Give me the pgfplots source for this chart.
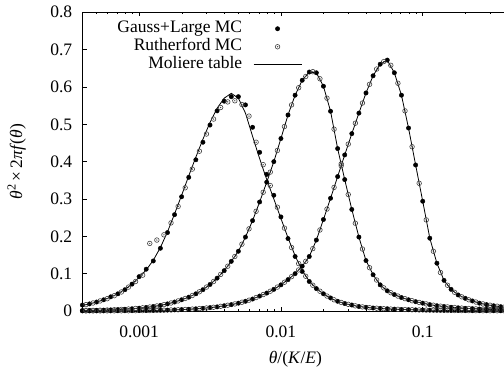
\documentclass[border=0pt]{standalone}
\usepackage{fontspec}
\setmainfont{Liberation Serif}
\usepackage{pgfplots}
\usepackage{pgfplotstable}
\pgfplotsset{compat=1.18}
\newcommand{\fs}{\fontsize{17.5}{20}\selectfont}
\pgfdeclareplotmark{odot}{%
  \pgfpathcircle{\pgfpoint{0pt}{0pt}}{\pgfplotmarksize}\pgfusepathqstroke
  \pgfpathcircle{\pgfpoint{0pt}{0pt}}{0.3\pgfplotmarksize}\pgfusepathqfill}

\pgfplotstableread{
x L1 F1 L2 L3
3.981e-4 0.015 0.016 0.0012 0.0002
4.467e-4 0.019 0.019 0.0015 0.0002
5.012e-4 0.024 0.024 0.0019 0.0003
5.623e-4 0.030 0.030 0.0024 0.0003
6.310e-4 0.037 0.038 0.0030 0.0004
7.079e-4 0.046 0.046 0.0038 0.0005
7.943e-4 0.058 0.057 0.0048 0.0006
8.913e-4 0.072 0.072 0.0060 0.0008
1.000e-3 0.090 0.092 0.0076 0.0010
1.122e-3 0.110 0.112 0.0095 0.0012
1.259e-3 0.136 0.134 0.0120 0.0015
1.413e-3 0.170 0.168 0.0150 0.0019
1.585e-3 0.212 0.210 0.0190 0.0024
1.778e-3 0.260 0.258 0.0240 0.0030
1.995e-3 0.310 0.306 0.0300 0.0037
2.239e-3 0.362 0.358 0.0370 0.0046
2.512e-3 0.412 0.405 0.0460 0.0058
2.818e-3 0.460 0.452 0.0570 0.0072
3.162e-3 0.505 0.498 0.0710 0.0090
3.548e-3 0.543 0.536 0.0880 0.0110
3.981e-3 0.570 0.562 0.1080 0.0140
4.467e-3 0.583 0.574 0.1330 0.0170
5.012e-3 0.570 0.574 0.1600 0.0210
5.623e-3 0.530 0.552 0.1980 0.0260
6.310e-3 0.468 0.492 0.2420 0.0320
7.079e-3 0.408 0.425 0.2920 0.0400
7.943e-3 0.352 0.366 0.3450 0.0480
8.913e-3 0.300 0.310 0.4000 0.0580
1.000e-2 0.248 0.252 0.4620 0.0700
1.122e-2 0.196 0.194 0.5250 0.0840
1.259e-2 0.148 0.146 0.5780 0.1000
1.413e-2 0.108 0.106 0.6180 0.1200
1.585e-2 0.080 0.079 0.6400 0.1460
1.778e-2 0.060 0.060 0.6380 0.1900
1.995e-2 0.046 0.046 0.6020 0.2450
2.239e-2 0.034 0.035 0.5350 0.3020
2.512e-2 0.026 0.026 0.4350 0.3600
2.818e-2 0.020 0.020 0.3520 0.4180
3.162e-2 0.0155 0.016 0.2720 0.4750
3.548e-2 0.0122 0.012 0.1980 0.5300
3.981e-2 0.0098 0.010 0.1350 0.5840
4.467e-2 0.0081 0.008 0.0970 0.6300
5.012e-2 0.0068 0.007 0.0700 0.6610
5.623e-2 0.0057 0.006 0.0540 0.6720
6.310e-2 0.0048 0.005 0.0440 0.6380
7.079e-2 0.0041 0.004 0.0360 0.5780
7.943e-2 0.0035 0.0035 0.0300 0.4900
8.913e-2 0.0030 0.0030 0.0250 0.3910
1.000e-1 0.0026 0.0026 0.0210 0.2940
1.122e-1 0.0022 0.0022 0.0170 0.1950
1.259e-1 0.0019 0.0019 0.0140 0.1280
1.413e-1 0.0016 0.0016 0.0120 0.0820
1.585e-1 0.0014 0.0014 0.0100 0.0580
1.778e-1 0.0012 0.0012 0.0085 0.0430
1.995e-1 0.0010 0.0010 0.0072 0.0340
2.239e-1 0.0009 0.0009 0.0062 0.0270
2.512e-1 0.0008 0.0008 0.0053 0.0210
2.818e-1 0.0007 0.0007 0.0045 0.0170
3.162e-1 0.0006 0.0006 0.0038 0.0140
3.548e-1 0.0005 0.0005 0.0032 0.0115
3.981e-1 0.0004 0.0004 0.0027 0.0095
}\maintab

\pgfplotstableread{
x O1 O2 O3
4.217e-4 0.017 0.0013 0.0002
4.732e-4 0.0215 0.0017 0.0002
5.309e-4 0.027 0.0021 0.0003
5.957e-4 0.033 0.0027 0.0004
6.683e-4 0.041 0.0034 0.0004
7.499e-4 0.051 0.0043 0.0005
8.414e-4 0.064 0.0054 0.0007
9.441e-4 0.079 0.0068 0.0009
1.059e-3 0.096 0.0085 0.0011
1.189e-3 0.181 0.0107 0.0013
1.334e-3 0.190 0.0135 0.0017
1.496e-3 0.204 0.017 0.0021
1.679e-3 0.236 0.0215 0.0027
1.884e-3 0.280 0.027 0.0033
2.113e-3 0.330 0.0335 0.0041
2.371e-3 0.380 0.0415 0.0052
2.661e-3 0.428 0.0515 0.0065
2.985e-3 0.474 0.064 0.0081
3.350e-3 0.514 0.079 0.0100
3.758e-3 0.545 0.098 0.0125
4.217e-3 0.560 0.120 0.0155
4.732e-3 0.563 0.146 0.019
5.309e-3 0.553 0.179 0.0235
5.957e-3 0.522 0.220 0.029
6.683e-3 0.452 0.267 0.036
7.499e-3 0.392 0.318 0.044
8.414e-3 0.336 0.372 0.053
9.441e-3 0.278 0.430 0.064
1.059e-2 0.222 0.494 0.077
1.189e-2 0.170 0.552 0.092
1.334e-2 0.127 0.598 0.110
1.496e-2 0.093 0.628 0.133
1.679e-2 0.069 0.641 0.167
1.884e-2 0.053 0.622 0.217
2.113e-2 0.040 0.570 0.273
2.371e-2 0.030 0.487 0.331
2.661e-2 0.023 0.394 0.389
2.985e-2 0.0178 0.312 0.447
3.350e-2 0.0138 0.235 0.503
3.758e-2 0.0110 0.166 0.557
4.217e-2 0.0090 0.116 0.607
4.732e-2 0.0075 0.083 0.648
5.309e-2 0.0062 0.062 0.668
5.957e-2 0.0052 0.049 0.658
6.683e-2 0.0045 0.040 0.610
7.499e-2 0.0038 0.033 0.536
8.414e-2 0.0033 0.0275 0.440
9.441e-2 0.0028 0.023 0.342
1.059e-1 0.0024 0.019 0.244
1.189e-1 0.0021 0.0155 0.160
1.334e-1 0.0018 0.013 0.103
1.496e-1 0.0015 0.011 0.069
1.679e-1 0.0013 0.0092 0.050
1.884e-1 0.0011 0.0078 0.038
2.113e-1 0.0010 0.0067 0.030
2.371e-1 0.0009 0.0057 0.024
2.661e-1 0.0008 0.0049 0.019
2.985e-1 0.0007 0.0041 0.0155
3.350e-1 0.0006 0.0035 0.0128
3.758e-1 0.0005 0.0029 0.0105
}\opentab

\begin{document}
\begin{tikzpicture}
\begin{axis}[
  xmode=log, scale only axis,
  width=425.4pt, height=298.7pt,
  xmin=4e-4, xmax=0.4, ymin=0, ymax=0.8,
  clip=false,
  axis line style={line width=0.8pt},
  tick style={line width=0.6pt, black},
  tick align=inside,
  major tick length=4pt, minor tick length=2pt,
  xtick={0.001,0.01,0.1}, xticklabels={0.001,0.01,0.1},
  minor xtick={5e-4,6e-4,7e-4,8e-4,9e-4,2e-3,3e-3,4e-3,5e-3,6e-3,7e-3,8e-3,9e-3,0.02,0.03,0.04,0.05,0.06,0.07,0.08,0.09,0.2,0.3},
  ytick={0,0.1,0.2,0.3,0.4,0.5,0.6,0.7,0.8},
  yticklabels={0,0.1,0.2,0.3,0.4,0.5,0.6,0.7,0.8},
  tick label style={font=\fs},
  yticklabel style={xshift=-7pt},
  xticklabel style={yshift=-11pt},
  xlabel={\textit{θ}/(\textit{K}/\textit{E})},
  ylabel={\textit{θ}\textsuperscript{2}\,×\,2\textit{πf}(\textit{θ})},
  label style={font=\fs},
  xlabel style={at={(axis description cs:0.5,0)}, anchor=center, yshift=-48pt},
  ylabel style={at={(axis description cs:0,0.5)}, anchor=center, yshift=66pt},
  legend plot pos=right,
  legend cell align=right,
  legend style={draw=none, fill=none, font=\fs, inner sep=0pt, outer sep=0pt,
    at={(axis description cs:0.5155,0.975)}, anchor=north east,
    row sep=0pt, column sep=11pt,
    nodes={inner sep=0pt, text height=12.5pt, text depth=5.5pt}},
  legend image code/.code={\draw[mark repeat=2,mark phase=2] plot coordinates {(0pt,0pt) (24pt,0pt) (48pt,0pt)};},
]
\addplot[only marks, mark=*, mark size=2.2pt, black] table[x=x,y=F1] {\maintab};
\addlegendentry{Gauss+Large MC}
\addplot[only marks, mark=odot, mark size=2.3pt, black!75, mark options={line width=0.6pt}] table[x=x,y=O1] {\opentab};
\addlegendentry{Rutherford MC}
\addplot[black, line width=0.8pt] table[x=x,y=L1] {\maintab};
\addlegendentry{Moliere table}
\addplot[only marks, mark=*, mark size=2.2pt, black, forget plot] table[x=x,y=L2] {\maintab};
\addplot[only marks, mark=*, mark size=2.2pt, black, forget plot] table[x=x,y=L3] {\maintab};
\addplot[only marks, mark=odot, mark size=2.3pt, black!75, mark options={line width=0.6pt}, forget plot] table[x=x,y=O2] {\opentab};
\addplot[only marks, mark=odot, mark size=2.3pt, black!75, mark options={line width=0.6pt}, forget plot] table[x=x,y=O3] {\opentab};
\addplot[black, line width=0.8pt, forget plot] table[x=x,y=L2] {\maintab};
\addplot[black, line width=0.8pt, forget plot] table[x=x,y=L3] {\maintab};
\end{axis}
\pgfresetboundingbox
\path[use as bounding box] ([shift={(-82.7pt,-58pt)}]current axis.south west) rectangle ([shift={(421.3pt,311pt)}]current axis.south west);
\end{tikzpicture}
\end{document}
